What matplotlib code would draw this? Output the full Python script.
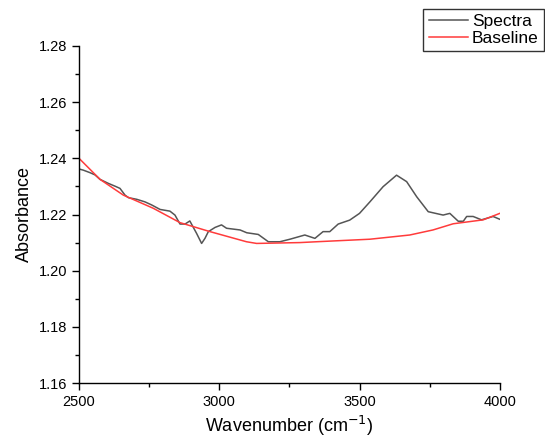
import matplotlib
matplotlib.use("Agg")
import matplotlib.pyplot as plt
from matplotlib.ticker import MultipleLocator

plt.rcParams['font.family'] = ['Liberation Sans', 'DejaVu Sans']

spec_x = [2500, 2515, 2539, 2557, 2575, 2604, 2628, 2646, 2664, 2676, 2706, 2735, 2759,
          2789, 2824, 2842, 2860, 2878, 2895, 2919, 2937, 2949, 2961, 2985, 3008, 3026,
          3074, 3098, 3139, 3175, 3216, 3252, 3305, 3341, 3370, 3394, 3424, 3465, 3500,
          3537, 3584, 3632, 3668, 3704, 3745, 3798, 3822, 3852, 3870, 3882, 3905, 3935,
          3976, 4000]
spec_y = [1.2362, 1.2358, 1.2349, 1.2341, 1.2325, 1.2311, 1.2301, 1.2293, 1.2269, 1.2260,
          1.2254, 1.2245, 1.2234, 1.2218, 1.2212, 1.2198, 1.2166, 1.2166, 1.2177, 1.2133,
          1.2097, 1.2115, 1.2139, 1.2154, 1.2163, 1.2151, 1.2145, 1.2135, 1.2129, 1.2103,
          1.2103, 1.2112, 1.2127, 1.2115, 1.2139, 1.2139, 1.2166, 1.2180, 1.2204, 1.2245,
          1.2299, 1.2340, 1.2317, 1.2263, 1.2210, 1.2198, 1.2204, 1.2176, 1.2176, 1.2193,
          1.2193, 1.2181, 1.2193, 1.2183]

base_x = [2500, 2575, 2658, 2765, 2860, 2967, 3097, 3133, 3287, 3347, 3537, 3679, 3762,
          3834, 3941, 4000]
base_y = [1.2400, 1.2325, 1.2269, 1.2222, 1.2171, 1.2139, 1.2103, 1.2097, 1.2100, 1.2103,
          1.2112, 1.2127, 1.2145, 1.2167, 1.2181, 1.2204]

x_ticks = [2500, 3000, 3500, 4000]
y_ticks = [1.16, 1.18, 1.20, 1.22, 1.24, 1.26, 1.28]

fig = plt.figure(figsize=(5.45, 4.4), dpi=100)
ax = fig.add_axes([0.145, 0.1295, 0.772, 0.766])

l1, = ax.plot(spec_x, spec_y, color='#555555', lw=1.1, label='Spectra')
l2, = ax.plot(base_x, base_y, color='#ff3b3b', lw=1.1, label='Baseline')

ax.set_xlim(2500, 4000)
ax.set_ylim(1.16, 1.28)
ax.set_xticks(x_ticks)
ax.set_yticks(y_ticks)
ax.set_yticklabels([f"{v:.2f}" for v in y_ticks])
ax.xaxis.set_minor_locator(MultipleLocator(250))
ax.yaxis.set_minor_locator(MultipleLocator(0.01))
ax.tick_params(which='major', direction='out', length=5, width=1, labelsize=10.5)
ax.tick_params(which='minor', direction='out', length=3, width=1)
for s in ['top', 'right']:
    ax.spines[s].set_visible(False)
for s in ['left', 'bottom']:
    ax.spines[s].set_linewidth(1.0)

ax.set_xlabel('Wavenumber (cm$^{-1}$)', fontsize=13)
ax.set_ylabel('Absorbance', fontsize=13)

leg = fig.legend(handles=[l1, l2], loc='upper right', bbox_to_anchor=(0.998, 0.98),
                 fontsize=12.5, frameon=True, fancybox=False, edgecolor='black',
                 handlelength=2.3, handletextpad=0.2, borderpad=0.3, labelspacing=0.1,
                 borderaxespad=0)
leg.get_frame().set_linewidth(1.0)

fig.savefig('out.png', dpi=100)
